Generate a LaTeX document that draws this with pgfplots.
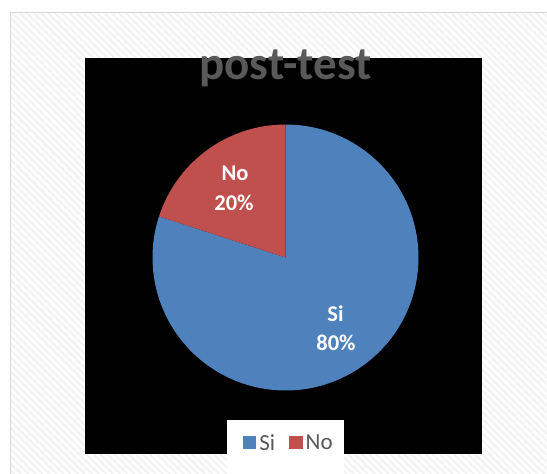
\documentclass[border=0pt]{standalone}
\usepackage{pgfplots}
\pgfplotsset{compat=1.18}
\usepackage{pgfplotstable}
\usepackage{fontspec}
\setmainfont{Carlito}
\usetikzlibrary{patterns.meta}
\definecolor{siblue}{HTML}{4F81BD}
\definecolor{nored}{HTML}{C0504D}
\definecolor{titlegray}{HTML}{595959}
\definecolor{framegray}{HTML}{D9D9D9}

\pgfplotstableread{
label value
Si 80
No 20
}\piedata

\begin{document}
\begin{tikzpicture}
\pgfplotstablegetelem{0}{value}\of\piedata \global\let\vSi\pgfplotsretval
\pgfplotstablegetelem{1}{value}\of\piedata \global\let\vNo\pgfplotsretval
\begin{axis}[
  x=1pt, y=1pt,
  xmin=0, xmax=547, ymin=0, ymax=474,
  hide axis, clip=true,
  legend columns=2,
  legend style={at={(axis cs:289.3,31)}, anchor=center, draw=none, fill=none,
    font=\fontsize{23}{27}\selectfont\color{titlegray},
    inner sep=0pt, nodes={inner sep=3pt}},
  /tikz/every even column/.append style={column sep=11pt},
  legend image code/.code={\fill[#1] (0pt,-6.5pt) rectangle (13.5pt,7pt);},
]
% background
\fill[white] (axis cs:-10,-10) rectangle (axis cs:560,480);
\fill[white, pattern={Lines[angle=-45, distance=5pt, line width=1.8pt]}, pattern color=black!5]
  (axis cs:10.5,-20) rectangle (axis cs:570,461.5);
\draw[framegray, line width=1.5pt] (axis cs:10.5,-20) -- (axis cs:10.5,461.5) -- (axis cs:570,461.5);
% plot area
\fill[black] (axis cs:85,20) rectangle (axis cs:482,416);
% pie sectors
\fill[siblue] (axis cs:285.5,216.5) -- ++(90:133pt) arc[start angle=90, end angle={90-3.6*\vSi}, radius=133pt] -- cycle;
\fill[nored] (axis cs:285.5,216.5) -- ++(90:133pt) arc[start angle=90, end angle={90+3.6*\vNo}, radius=133pt] -- cycle;
% data labels
\node[white, anchor=base, font=\bfseries\fontsize{22.5}{26}\selectfont] at (axis cs:235,293) {No};
\node[white, anchor=base, font=\bfseries\fontsize{22.5}{26}\selectfont] at (axis cs:234,263) {20\%};
\node[white, anchor=base, font=\bfseries\fontsize{22.5}{26}\selectfont] at (axis cs:335.5,152) {Si};
\node[white, anchor=base, font=\bfseries\fontsize{22.5}{26}\selectfont] at (axis cs:336,123) {80\%};
% title
\node[titlegray, anchor=base, font=\bfseries\fontsize{47}{54}\selectfont] at (axis cs:285.5,394) {post-test};
% legend box
\fill[white] (axis cs:227,54) rectangle (axis cs:344,-10);
\addlegendimage{fill=siblue, draw=none}
\addlegendentry{Si}
\addlegendimage{fill=nored, draw=none}
\addlegendentry{No}
\end{axis}
\end{tikzpicture}
\end{document}
